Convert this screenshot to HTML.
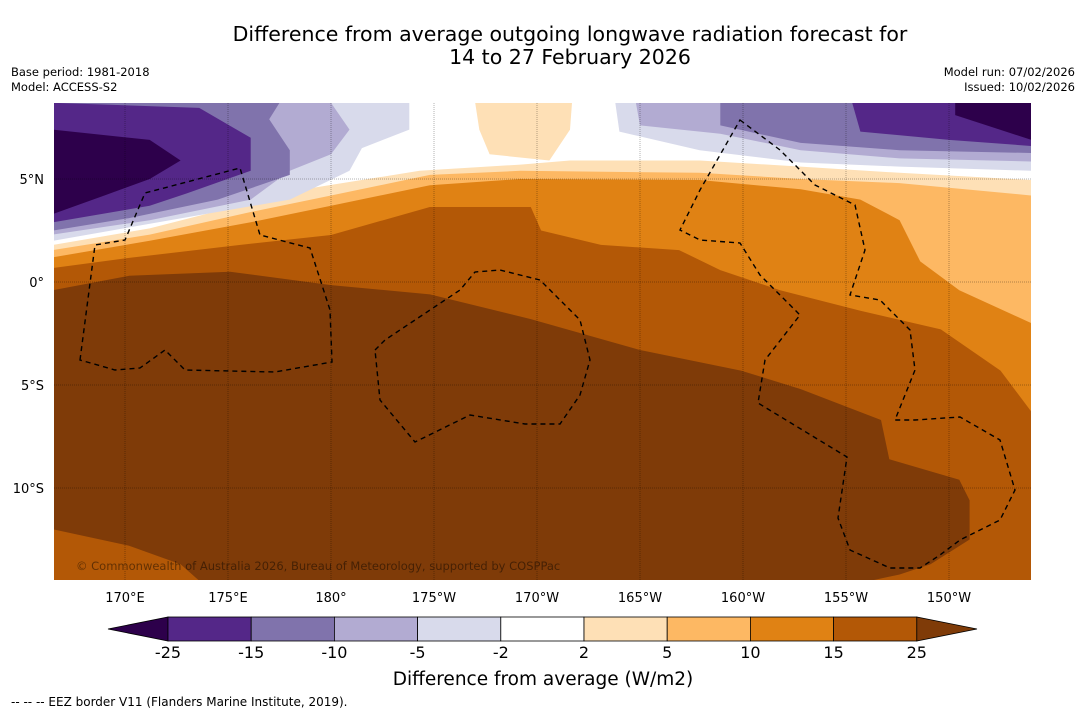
<!DOCTYPE html>
<html><head><meta charset="utf-8"><style>
body{margin:0;background:#fff;font-family:"DejaVu Sans","Liberation Sans",sans-serif;}
#wrap{position:relative;width:1085px;height:713px;overflow:hidden;background:#fff}
svg text{font-family:"DejaVu Sans","Liberation Sans",sans-serif;}
</style></head><body>
<div id="wrap">
<svg id="svg" width="1085" height="713" xmlns="http://www.w3.org/2000/svg">
<defs><clipPath id="mapclip"><rect x="54" y="103" width="977" height="477"/></clipPath></defs>
<text x="570" y="41" font-size="20.5" text-anchor="middle">Difference from average outgoing longwave radiation forecast for</text>
<text x="570" y="64" font-size="20.5" text-anchor="middle">14 to 27 February 2026</text>
<text x="11" y="76" font-size="11.5">Base period: 1981-2018</text>
<text x="11" y="91" font-size="11.5">Model: ACCESS-S2</text>
<text x="1075" y="76" font-size="11.5" text-anchor="end">Model run: 07/02/2026</text>
<text x="1075" y="91" font-size="11.5" text-anchor="end">Issued: 10/02/2026</text>
<g id="map" clip-path="url(#mapclip)"></g>
<g id="axes"></g>
<g id="cbar"></g>
<text x="543" y="685" font-size="18.5" text-anchor="middle">Difference from average (W/m2)</text>
<text x="11" y="706" font-size="12">--  --  -- EEZ border V11 (Flanders Marine Institute, 2019).</text>
</svg>
</div>
<script>
const lonTicks=[170,175,180,185,190,195,200,205,210];
const lonLabels=["170°E","175°E","180°","175°W","170°W","165°W","160°W","155°W","150°W"];
const latTicks=[5,0,-5,-10];
const latLabels=["5°N","0°","5°S","10°S"];
const levelLabels=["-25","-15","-10","-5","-2","2","5","10","15","25"];
const levelColors=["#542788","#8073ac","#b2abd2","#d8daeb","#ffffff","#fee0b6","#fdb863","#e08214","#b35806"];
const lowColor="#2d004b", highColor="#7f3b08";
// contour regions (lon east 0-360, lat), painted in order
const bandC25=[[166.5,8.7],[214,8.7],[214,-14.5],[206.2,-14.5],[207.6,-14.2],[209.1,-13.7],[211,-12.5],[211,-10.6],[210.5,-9.6],[207.1,-8.6],[206.7,-6.7],[202.8,-5.2],[199.9,-4.3],[195,-3.3],[189.7,-1.8],[184.8,-0.6],[180,-0.15],[175.1,0.5],[170.2,0.3],[166.5,-0.4]];
const bandC25b=[[166.5,-12],[170.2,-12.8],[172.7,-13.7],[173.6,-14.5],[166.5,-14.5]];
const bandC15=[[166.5,8.7],[214,8.7],[214,-6.3],[212.5,-4.3],[209.6,-2.3],[205.7,-1.4],[201.8,-0.4],[198.9,0.58],[196.9,1.55],[193.1,1.8],[190.2,2.5],[189.7,3.64],[184.8,3.64],[180,2.28],[175.6,1.8],[170.2,1.17],[166.5,0.68]];
const bandC10=[[166.5,8.7],[214,8.7],[214,-2.0],[210.5,-0.4],[208.6,1.0],[207.6,3.0],[205.7,4.0],[202.8,4.5],[197.9,4.95],[189.2,5.0],[184.8,4.7],[180,3.7],[176.1,2.9],[171.2,2.0],[166.5,1.2]];
const bandC5=[[166.5,8.7],[214,8.7],[214,4.2],[207.6,4.8],[202.8,5.0],[197.9,5.3],[189.2,5.4],[184.8,5.2],[180,4.2],[176.1,3.4],[171.2,2.3],[166.5,1.55]];
const bandC2=[[166.5,8.7],[214,8.7],[214,4.95],[207.6,5.3],[202.8,5.6],[197.9,5.9],[191.6,5.9],[189.2,5.7],[184.3,5.4],[178.5,4.47],[171.2,2.6],[166.5,1.8]];
const bandP2=[[187,8.7],[187.2,7.4],[187.7,6.2],[190.6,5.9],[191.6,7.4],[191.7,8.7]];
const bandM2L=[[166.5,8.7],[183.8,8.7],[183.8,7.4],[181.5,6.5],[180.9,5.4],[178,4.0],[173.6,3.25],[166.5,2.0]];
const bandM2R=[[193.8,8.7],[214,8.7],[214,5.4],[207.6,5.6],[202.8,5.8],[197.9,6.4],[194,7.3]];
const bandM5L=[[166.5,8.7],[180,8.7],[180.9,7.4],[180,6.2],[178,5.4],[176.1,4.0],[171.2,3.0],[166.5,2.3]];
const bandM5R=[[194.8,8.7],[214,8.7],[214,5.85],[207.6,6.0],[202.8,6.4],[198.9,7.2],[195,7.6]];
const bandM10L=[[166.5,8.7],[177.5,8.7],[177,7.9],[178,6.4],[178,5.2],[174.5,4.0],[170.2,3.1],[166.5,2.5]];
const bandM10R=[[198.9,8.7],[214,8.7],[214,6.26],[207.6,6.4],[202.8,6.75],[198.9,7.6]];
const bandM15L=[[166.5,8.7],[173.6,8.45],[176.1,7.0],[176.1,5.4],[173,4.3],[171.2,3.7],[166.5,2.9]];
const bandM15R=[[205.3,8.7],[214,8.7],[214,6.6],[210,6.9],[205.7,7.3]];
const bandM25L=[[166.5,7.4],[171.2,6.9],[172.7,5.9],[171.2,5.0],[169,4.2],[166.5,3.3]];
const bandM25R=[[210.3,8.7],[214,8.7],[214,6.9],[210.3,8.1]];

const NS="http://www.w3.org/2000/svg";
const X=lon=>125+(lon-170)*20.6;
const Y=lat=>282-lat*20.6;
const map=document.getElementById('map'),axes=document.getElementById('axes'),cbar=document.getElementById('cbar');
function mk(tag,attrs,parent){const e=document.createElementNS(NS,tag);for(const k in attrs)e.setAttribute(k,attrs[k]);parent.appendChild(e);return e;}
const bg=mk('rect',{x:54,y:103,width:977,height:477,fill:highColor},map);


const layers=[[bandC25,levelColors[8],'band-15-25'],[bandC25b,levelColors[8],'band-15-25-southwest'],[bandC15,levelColors[7],'band-10-15'],[bandC10,levelColors[6],'band-5-10'],[bandC5,levelColors[5],'band-2-5'],[bandC2,levelColors[4],'band-neutral'],[bandP2,levelColors[5],'band-2-5-north'],
[bandM2L,levelColors[3],'band-minus5-minus2-west'],[bandM2R,levelColors[3],'band-minus5-minus2-east'],[bandM5L,levelColors[2],'band-minus10-minus5-west'],[bandM5R,levelColors[2],'band-minus10-minus5-east'],[bandM10L,levelColors[1],'band-minus15-minus10-west'],[bandM10R,levelColors[1],'band-minus15-minus10-east'],[bandM15L,levelColors[0],'band-minus25-minus15-west'],[bandM15R,levelColors[0],'band-minus25-minus15-east'],[bandM25L,lowColor,'band-below-minus25-west'],[bandM25R,lowColor,'band-below-minus25-east']];
layers.forEach(([pts,col,name])=>{
  const p=mk('polygon',{points:pts.map(q=>X(q[0]).toFixed(1)+','+Y(q[1]).toFixed(1)).join(' '),fill:col},map);
  
  
});
// EEZ borders (static map geometry)
const eez=["M80,360 L95,245 L125,240 L145,193 L240,168 L260,235 L310,248 L330,310 L332,362 L275,372 L185,370 L165,350 L140,368 L115,370 Z",
"M375,350 L385,340 L460,290 L475,272 L500,270 L540,280 L580,320 L590,360 L580,395 L560,424 L525,424 L470,415 L415,442 L380,400 Z",
"M740,120 L780,150 L815,185 L855,205 L865,250 L850,295 L880,300 L910,330 L915,370 L895,420 L915,420 L960,417 L1000,440 L1015,490 L1000,520 L960,540 L940,555 L920,568 L890,568 L850,550 L838,518 L847,457 L758,403 L765,360 L800,315 L760,275 L740,243 L700,240 L680,230 L700,190 Z"];
eez.forEach((d,i)=>{const e=mk('path',{d:d,fill:'none',stroke:'#000','stroke-width':1.4,'stroke-dasharray':'5,4'},map);

});
// gridlines and labels
lonTicks.forEach((v,i)=>{
  const g=mk('line',{x1:X(v),x2:X(v),y1:103,y2:580,stroke:'#000','stroke-width':0.5,'stroke-dasharray':'1,1',opacity:0.6},axes);
  
  
  const t=mk('text',{x:X(v),y:602,'font-size':13,'text-anchor':'middle'},axes);t.textContent=lonLabels[i];
  
  
});
latTicks.forEach((v,i)=>{
  const g=mk('line',{x1:54,x2:1031,y1:Y(v),y2:Y(v),stroke:'#000','stroke-width':0.5,'stroke-dasharray':'1,1',opacity:0.6},axes);
  
  
  const t=mk('text',{x:44,y:Y(v)+5,'font-size':13,'text-anchor':'end'},axes);t.textContent=latLabels[i];
  
  
});
const cp=mk('text',{x:76,y:570,'font-size':11.5,fill:'#000',opacity:0.45},axes);cp.textContent="© Commonwealth of Australia 2026, Bureau of Meteorology, supported by COSPPac";


// colorbar
const cx0=168,cw=83.2,cy=617,ch=24;
const lt=mk('polygon',{points:`${cx0},${cy} ${cx0},${cy+ch} 108,${cy+ch/2}`,fill:lowColor,stroke:'#000','stroke-width':0.8},cbar);


levelColors.forEach((c,i)=>{const r=mk('rect',{x:cx0+i*cw,y:cy,width:cw,height:ch,fill:c,stroke:'#000','stroke-width':0.8},cbar);

});
const xe=cx0+9*cw;
const rt=mk('polygon',{points:`${xe},${cy} ${xe},${cy+ch} 977,${cy+ch/2}`,fill:highColor,stroke:'#000','stroke-width':0.8},cbar);


levelLabels.forEach((l,i)=>{const t=mk('text',{x:cx0+i*cw,y:658,'font-size':16,'text-anchor':'middle'},cbar);t.textContent=l;

});
</script>
</body></html>
